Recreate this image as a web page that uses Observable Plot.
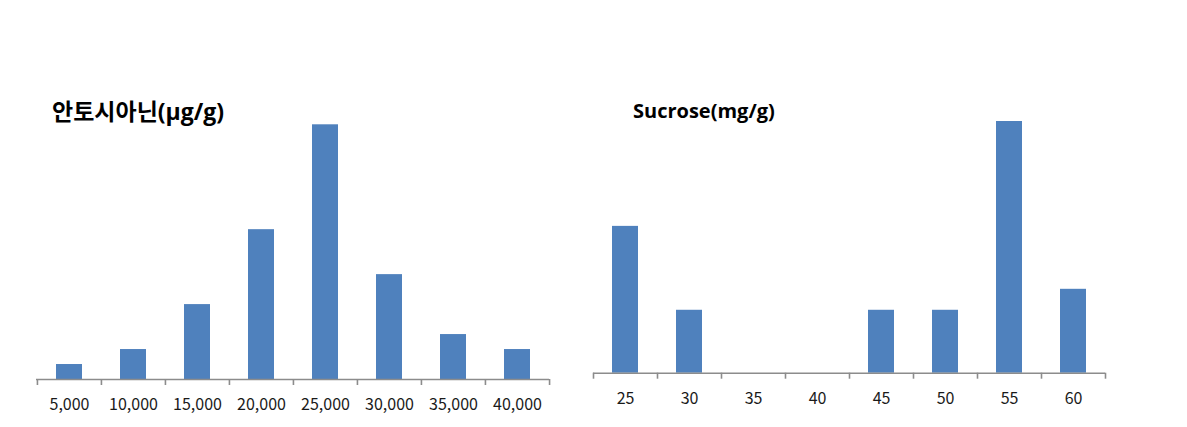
<!DOCTYPE html>
<html>
<head>
<meta charset="utf-8">
<script src="https://cdn.jsdelivr.net/npm/d3@7"></script>
<script src="https://cdn.jsdelivr.net/npm/@observablehq/plot@0.6"></script>
<style>
  html, body { margin: 0; padding: 0; background: #fff; }
  #wrap { position: relative; width: 1187px; height: 427px; overflow: hidden; font-family: "Open Sans", "Noto Sans CJK KR", sans-serif; }
  .panel { position: absolute; top: 0; }
  .title { position: absolute; font-weight: bold; color: #000; line-height: 1; white-space: nowrap; font-family: "Open Sans", "Noto Sans CJK KR", sans-serif; }
</style>
</head>
<body>
<div id="wrap">
  <div id="left" class="panel" style="left:0px"></div>
  <div id="right" class="panel" style="left:583px"></div>
  <div class="title" id="t1" style="left:52px; top:100px; font-size:23px;"></div>
  <div class="title" id="t2" style="left:633px; top:101px; font-size:20px;"></div>
</div>
<script>
// ---- data ----
const leftTitle = "안토시아닌(μg/g)";
const leftCategories = ["5,000", "10,000", "15,000", "20,000", "25,000", "30,000", "35,000", "40,000"];
const leftValues = [1, 2, 5, 10, 17, 7, 3, 2];

const rightTitle = "Sucrose(mg/g)";
const rightCategories = ["25", "30", "35", "40", "45", "50", "55", "60"];
const rightValues = [7, 3, 0, 0, 3, 3, 12, 4];

const barColor = "#4F81BD";
const axisColor = "#8C8C8C";

document.getElementById("t1").textContent = leftTitle;
document.getElementById("t2").textContent = rightTitle;

function panel({cats, vals, width, marginLeft, marginRight, marginTop, marginBottom, yMax}) {
  const data = cats.map((c, i) => ({cat: c, value: vals[i]}));
  const height = 427;
  const plotW = width - marginLeft - marginRight;
  const step = plotW / cats.length;
  const plotH = height - marginTop - marginBottom;
  const tickLen = 6 * yMax / plotH; // 6px below the axis, in y units
  return Plot.plot({
    width, height, marginLeft, marginRight, marginTop, marginBottom,
    style: {background: "transparent", fontSize: "16px", fontFamily: "'Noto Sans CJK KR', 'Open Sans', sans-serif", color: "#1a1a1a"},
    x: {domain: cats, paddingInner: 0.6, paddingOuter: 0.3, tickSize: 0, tickPadding: 19.5, label: null},
    y: {domain: [0, yMax], axis: null},
    marks: [
      Plot.barY(data, {x: "cat", y: "value", fill: barColor}),
      Plot.ruleY([0], {stroke: axisColor, strokeWidth: 1.6}),
      Plot.ruleX(cats, {x: d => d, y1: 0, y2: -tickLen, dx: -step / 2, stroke: axisColor, strokeWidth: 1.6}),
      Plot.ruleX([cats[cats.length - 1]], {x: d => d, y1: 0, y2: -tickLen, dx: step / 2, stroke: axisColor, strokeWidth: 1.6})
    ]
  });
}

document.getElementById("left").append(panel({
  cats: leftCategories, vals: leftValues, width: 583,
  marginLeft: 36, marginRight: 583 - 549, marginTop: 124.3, marginBottom: 427 - 379, yMax: 17
}));
document.getElementById("right").append(panel({
  cats: rightCategories, vals: rightValues, width: 604,
  marginLeft: 10, marginRight: 604 - (1105 - 583), marginTop: 121, marginBottom: 427 - 372.7, yMax: 12
}));
</script>
</body>
</html>
